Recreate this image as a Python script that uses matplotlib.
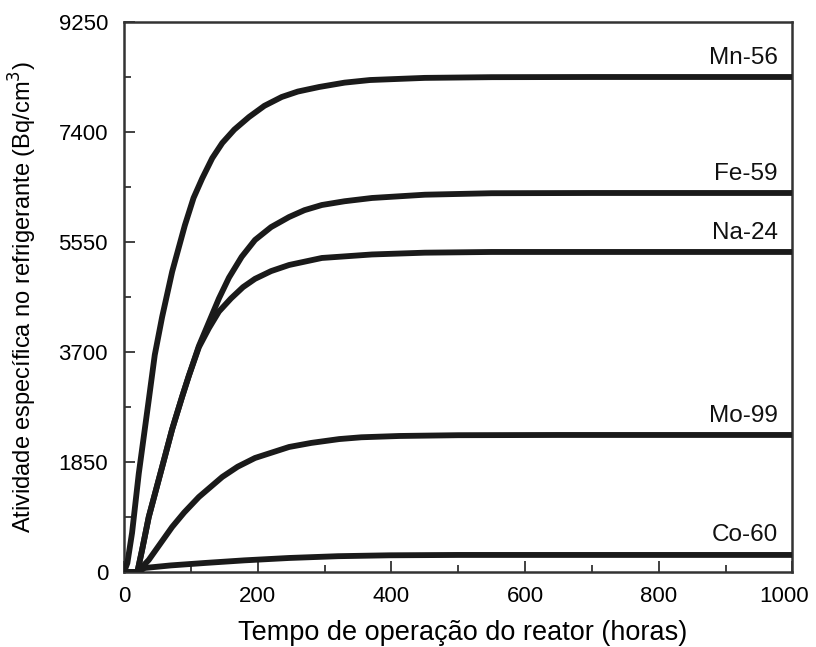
import numpy as np
import matplotlib
matplotlib.use("Agg")
import matplotlib.pyplot as plt
from matplotlib.transforms import ScaledTranslation

plt.rcParams["font.family"] = ["Liberation Sans", "DejaVu Sans"]

# Curves (time in hours, activity in Bq/cm3)
mn56_t = [0, 5, 12, 22, 37, 46, 57, 72, 91, 104, 117, 132, 147, 165, 187, 210, 236, 260, 292, 330, 368, 450, 550, 700, 1000]
mn56_y = [0, 150, 656, 1650, 2893, 3650, 4289, 5050, 5830, 6290, 6620, 6960, 7215, 7440, 7652, 7840, 7989, 8080, 8157, 8230, 8274, 8310, 8322, 8325, 8325]

fe59_t = [0, 20, 27, 37, 57, 72, 87, 97, 112, 127, 142, 157, 176, 196, 220, 247, 270, 296, 330, 371, 450, 550, 700, 1000]
fe59_y = [0, 0, 370, 925, 1766, 2400, 2950, 3300, 3800, 4200, 4600, 4950, 5300, 5584, 5800, 5970, 6085, 6172, 6235, 6290, 6345, 6370, 6374, 6374]

na24_t = [0, 20, 27, 37, 57, 72, 87, 97, 112, 127, 142, 160, 178, 196, 220, 247, 296, 371, 450, 550, 700, 1000]
na24_y = [0, 0, 370, 925, 1766, 2400, 2950, 3300, 3780, 4100, 4380, 4600, 4790, 4930, 5060, 5163, 5281, 5340, 5370, 5382, 5382, 5382]

mo99_t = [0, 20, 37, 72, 90, 112, 147, 170, 196, 247, 280, 322, 355, 412, 500, 650, 1000]
mo99_y = [0, 0, 202, 757, 1000, 1261, 1598, 1770, 1917, 2102, 2170, 2235, 2265, 2287, 2300, 2304, 2304]

co60_t = [0, 20, 31, 70, 121, 180, 247, 320, 397, 500, 1000]
co60_y = [0, 0, 67, 110, 151, 195, 235, 265, 280, 286, 286]

series = [("Mn-56", mn56_t, mn56_y), ("Fe-59", fe59_t, fe59_y),
          ("Na-24", na24_t, na24_y), ("Mo-99", mo99_t, mo99_y),
          ("Co-60", co60_t, co60_y)]

x_ticks = [0, 200, 400, 600, 800, 1000]
y_ticks = [0, 1850, 3700, 5550, 7400, 9250]

fig = plt.figure(figsize=(8.16, 6.47), dpi=100)
ax = fig.add_axes([0.152, 0.116, 0.819, 0.850])

for name, t, y in series:
    ax.plot(t, y, color="#1a1a1a", lw=4.2, solid_joinstyle="round", zorder=3)
    ax.annotate(name, xy=(978, y[-1]), xytext=(0, 14), textcoords="offset points",
                ha="right", va="center", fontsize=17.5, color="#111111")

ax.set_xlim(0, 1000)
ax.set_ylim(0, 9250)
ax.set_xticks(x_ticks)
ax.set_yticks(y_ticks)
ax.set_xticks(np.arange(100, 1000, 200), minor=True)
ax.set_yticks(np.arange(925, 9250, 1850), minor=True)
ax.tick_params(axis="both", which="major", direction="in", length=8, width=1.3,
               labelsize=16, color="#333333")
ax.tick_params(axis="both", which="minor", direction="in", length=5, width=1.3,
               color="#333333")
ax.tick_params(axis="y", which="major", pad=11.5)
ax.tick_params(axis="x", which="major", pad=10)

# last x tick label sits a bit left of its tick in the original
last = ax.get_xticklabels()[-1]
last.set_transform(last.get_transform() + ScaledTranslation(-6 / 72, 0, fig.dpi_scale_trans))

for s in ax.spines.values():
    s.set_linewidth(1.8)
    s.set_color("#333333")

ax.set_xlabel("Tempo de operação do reator (horas)", fontsize=19.5)
ax.set_ylabel("Atividade específica no refrigerante (Bq/cm$^3$)", fontsize=17)
ax.xaxis.set_label_coords(0.506, -0.087)
ax.yaxis.set_label_coords(-0.127, 0.5)

fig.savefig("out.png", dpi=100)
